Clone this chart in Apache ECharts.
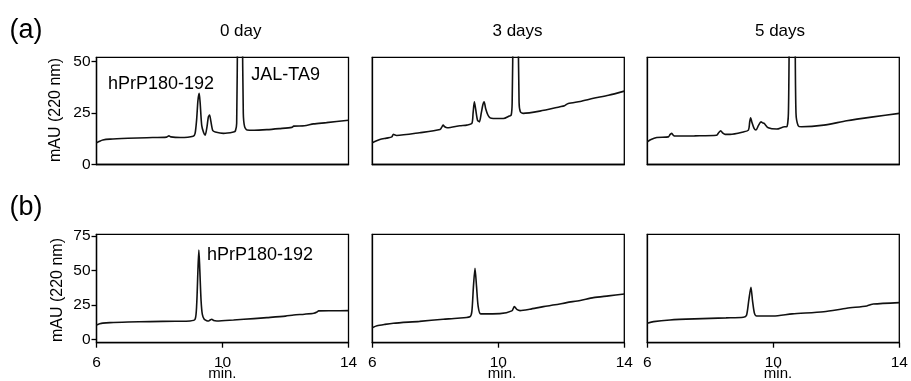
<!DOCTYPE html>
<html>
<head>
<meta charset="utf-8">
<script src="https://cdn.jsdelivr.net/npm/echarts@6/dist/echarts.min.js"></script>
<style>
html,body{margin:0;padding:0;background:#fff;}
#chart{width:911px;height:381px;}
</style>
</head>
<body>
<div id="chart"></div>
<script>
// ---- data (retention time in min, absorbance in mAU at 220 nm) ----
const panelTitles = ['0 day', '3 days', '5 days'];
const xTicks = [6, 10, 14];
const yTicksA = [0, 25, 50];
const yTicksB = [0, 25, 50, 75];

// Row (a) : 0 day
const a0_x = [6.0, 6.1, 6.2, 6.43, 7.0, 7.6, 8.23, 8.3, 8.36, 8.66, 9.07, 9.13, 9.18, 9.22, 9.26, 9.29, 9.34, 9.4, 9.45, 9.51, 9.55, 9.59, 9.63, 9.69, 9.77, 10.03, 10.35, 10.41, 10.45, 10.48, 10.52, 10.6, 10.63, 10.66, 10.7, 10.78, 11.0, 11.41, 11.8, 12.2, 12.26, 12.6, 12.89, 13.3, 14.0];
const a0_y = [10.5, 11.3, 11.9, 12.3, 12.7, 13.0, 13.3, 13.9, 13.4, 13.1, 13.7, 15.1, 22, 31, 34.5, 30, 19, 15.5, 14.2, 18.5, 23, 24, 21, 16.5, 15.8, 15.1, 15.8, 16.3, 20, 70, 130, 130, 70, 25, 18.5, 16.7, 16.6, 16.9, 17.4, 18.0, 18.6, 18.8, 19.7, 20.3, 21.5];

// Row (a) : 3 days
const a3_x = [6.0, 6.1, 6.24, 6.45, 6.62, 6.67, 6.72, 6.77, 7.5, 8.15, 8.22, 8.25, 8.3, 8.38, 8.78, 9.0, 9.16, 9.2, 9.24, 9.28, 9.34, 9.4, 9.46, 9.51, 9.55, 9.6, 9.67, 9.74, 9.84, 10.16, 10.35, 10.41, 10.44, 10.47, 10.5, 10.6, 10.63, 10.66, 10.7, 10.79, 11.32, 11.96, 12.1, 12.22, 12.6, 13.02, 13.5, 14.0];
const a3_y = [10.5, 11.3, 12.1, 12.8, 13.4, 14.7, 14.3, 14.1, 15.4, 17.0, 18.5, 19.1, 18.3, 17.8, 18.8, 19.1, 19.9, 25, 30.4, 27, 21.5, 20.7, 25, 29, 30.4, 27, 24, 22.6, 22.3, 22.3, 23.5, 24, 30, 70, 130, 130, 70, 30, 25.6, 24.8, 25.9, 28.0, 28.5, 29.6, 30.6, 32.1, 33.6, 35.6];

// Row (a) : 5 days
const a5_x = [6.0, 6.1, 6.3, 6.67, 6.72, 6.77, 6.82, 6.88, 7.5, 8.2, 8.27, 8.33, 8.4, 8.47, 8.63, 9.05, 9.21, 9.25, 9.28, 9.32, 9.39, 9.45, 9.53, 9.61, 9.66, 9.71, 9.84, 10.11, 10.36, 10.43, 10.48, 10.51, 10.55, 10.65, 10.69, 10.72, 10.79, 10.9, 11.6, 12.33, 13.17, 14.0];
const a5_y = [11.0, 12.0, 13.1, 13.4, 14.5, 15.1, 14.3, 13.8, 13.9, 14.2, 15.5, 16.3, 15.2, 14.6, 14.6, 15.8, 16.7, 20.5, 22.7, 20.5, 17.5, 16.7, 19.0, 20.7, 20.2, 19.9, 17.8, 17.2, 18.3, 18.3, 25, 70, 130, 130, 70, 25, 18.8, 18.3, 19.1, 21.2, 23.1, 24.8];

// Row (b) : 0 day
const b0_x = [6.0, 6.1, 6.2, 6.43, 7.0, 7.7, 8.5, 8.97, 9.13, 9.18, 9.22, 9.25, 9.28, 9.32, 9.36, 9.42, 9.5, 9.56, 9.62, 9.66, 9.72, 9.82, 10.35, 11.0, 11.41, 12.0, 12.26, 12.6, 12.9, 13.0, 13.05, 13.5, 14.0];
const b0_y = [10.4, 11.2, 11.7, 12.1, 12.5, 12.8, 13.1, 13.3, 14.5, 25, 50, 64.8, 50, 28, 18, 14.5, 13.5, 13.3, 14.2, 14.5, 13.6, 13.3, 14.0, 15.0, 15.7, 16.8, 17.6, 18.2, 18.9, 19.8, 20.6, 20.7, 20.8];

// Row (b) : 3 days
const b3_x = [6.0, 6.15, 6.4, 6.67, 7.5, 8.25, 8.7, 9.1, 9.16, 9.21, 9.26, 9.31, 9.36, 9.44, 10.05, 10.43, 10.51, 10.6, 10.69, 11.0, 11.43, 11.8, 12.17, 12.6, 13.02, 13.5, 14.0];
const b3_y = [8.4, 9.8, 10.8, 11.6, 13.0, 14.5, 15.3, 16.4, 20, 38, 51.6, 38, 24, 18.4, 18.6, 20.6, 23.7, 21.5, 20.8, 21.8, 23.7, 25.0, 26.6, 28.2, 30.2, 31.5, 32.9];

// Row (b) : 5 days
const b5_x = [6.0, 6.2, 6.72, 7.5, 8.5, 9.05, 9.15, 9.22, 9.29, 9.34, 9.4, 9.47, 10.0, 10.6, 11.6, 12.33, 12.97, 13.1, 13.17, 14.0];
const b5_y = [11.6, 12.8, 14.0, 14.8, 15.5, 16.0, 17.5, 28, 37.8, 28, 19, 16.9, 16.9, 18.4, 20.0, 22.5, 24.2, 25.2, 25.6, 26.6];

// ---- chart construction ----
const traces = [[a0_x, a0_y], [a3_x, a3_y], [a5_x, a5_y], [b0_x, b0_y], [b3_x, b3_y], [b5_x, b5_y]];
const FONT = '"Liberation Sans", Arial, sans-serif';
const colLeft = [96.5, 372.3, 647.3];
const colWidth = 252;
const rowTop = [57.3, 234.3];
const rowHeight = [107.2, 108.4];
const yRange = [[0, 52], [-2.5, 76.2]];

const grids = [], xAxes = [], yAxes = [], series = [];
for (let r = 0; r < 2; r++) {
  for (let c = 0; c < 3; c++) {
    const i = r * 3 + c;
    grids.push({
      left: colLeft[c], top: rowTop[r], width: colWidth, height: rowHeight[r],
      show: true, borderColor: '#000', borderWidth: 1.3, backgroundColor: 'transparent'
    });
    const showX = r === 1;
    const showY = c === 0;
    xAxes.push({
      type: 'value', gridIndex: i, min: 6, max: 14,
      axisLine: { show: true, onZero: false, lineStyle: { color: '#000', width: 1.3 } },
      axisTick: { show: showX, length: 5, customValues: xTicks, lineStyle: { color: '#000', width: 1.3 } },
      axisLabel: { show: showX, customValues: xTicks, margin: 12, fontSize: 15.5, color: '#000', fontFamily: FONT },
      splitLine: { show: false }
    });
    const yt = r === 0 ? yTicksA : yTicksB;
    yAxes.push({
      type: 'value', gridIndex: i, min: yRange[r][0], max: yRange[r][1],
      axisLine: { show: true, onZero: false, lineStyle: { color: '#000', width: 1.3 } },
      axisTick: { show: showY, length: 5, customValues: yt, lineStyle: { color: '#000', width: 1.3 } },
      axisLabel: { show: showY, customValues: yt, margin: 6, fontSize: 15.5, color: '#000', fontFamily: FONT },
      splitLine: { show: false }
    });
    const tx = traces[i][0], ty = traces[i][1];
    series.push({
      type: 'line', xAxisIndex: i, yAxisIndex: i,
      data: tx.map((v, k) => [v, ty[k]]),
      showSymbol: false, symbol: 'none', clip: true, smooth: 0.25,
      lineStyle: { color: '#111', width: 1.6 },
      animation: false
    });
  }
}

function txt(x, y, s, size, rot) {
  return {
    type: 'text', x: x, y: y, rotation: rot || 0,
    style: { text: s, fontSize: size, fontFamily: FONT, fill: '#000', align: 'center', verticalAlign: 'middle' }
  };
}

const graphics = [
  txt(26, 30.5, '(a)', 27),
  txt(26, 208, '(b)', 27),
  txt(240.7, 31, panelTitles[0], 17),
  txt(517.5, 31, panelTitles[1], 17),
  txt(780, 31, panelTitles[2], 17),
  txt(56, 110, 'mAU (220 nm)', 16, Math.PI / 2),
  txt(57.5, 290, 'mAU (220 nm)', 16, Math.PI / 2),
  txt(161, 84, 'hPrP180-192', 18),
  txt(285.7, 75, 'JAL-TA9', 18),
  txt(260, 255.5, 'hPrP180-192', 18),
  txt(222.3, 374, 'min.', 15),
  txt(502, 374, 'min.', 15),
  txt(778, 374, 'min.', 15)
];

const chart = echarts.init(document.getElementById('chart'), null, { renderer: 'canvas' });
chart.setOption({
  animation: false,
  backgroundColor: '#fff',
  grid: grids,
  xAxis: xAxes,
  yAxis: yAxes,
  series: series,
  graphic: graphics
});
</script>
</body>
</html>
